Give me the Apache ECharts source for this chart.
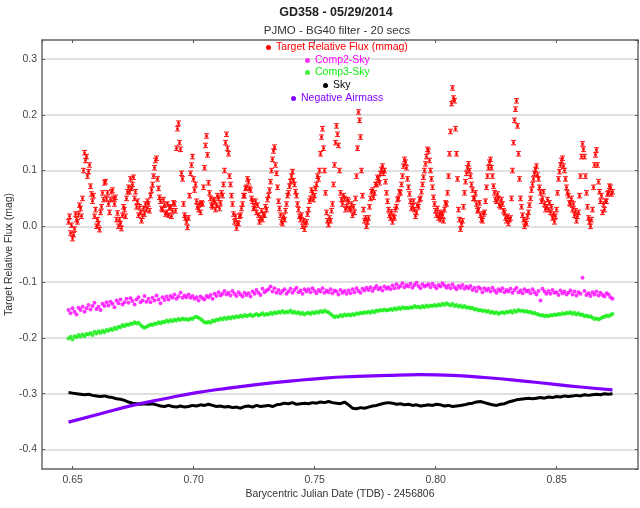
<!DOCTYPE html>
<html><head><meta charset="utf-8">
<script src="https://cdn.jsdelivr.net/npm/echarts@6/dist/echarts.min.js"></script>
<style>html,body{margin:0;padding:0;background:#fff}#c{width:640px;height:508px}</style>
</head><body><div id="c"></div>
<script>
// ---- DATA ----
const titleText = 'GD358 - 05/29/2014';
const subtitleText = 'PJMO - BG40 filter - 20 secs';
const xAxisName = 'Barycentric Julian Date (TDB) - 2456806';
const yAxisName = 'Target Relative Flux (mag)';
const seriesNames = ['Target Relative Flux (mmag)', 'Comp2-Sky', 'Comp3-Sky', 'Sky', 'Negative Airmass'];
const tStart = 0.64826, tEnd = 0.87306;   // time span of the run (BJD - 2456806)
const targetErr = 0.004;

const targetFlux = [
.008,.018,-.012,.002,-.022,-.015,-.005,.022,.012,.008,.022,.038,.032,.018,.05,.1,.132,.118,.125,.09,
.098,.11,.072,.058,.045,.055,.018,.03,0,.012,.005,-.006,.025,.035,.06,.048,.078,.08,.05,.06,
.04,.025,.048,.062,.065,.05,.04,.052,.012,.024,0,.012,.005,-.004,.02,.035,.03,.018,.05,.062,
.07,.062,.085,.068,.075,.088,.05,.062,.035,.045,.02,.035,.025,.01,.018,.032,.022,.04,.03,.045,
.04,.028,.055,.065,.075,.09,.105,.118,.122,.085,.068,.052,.045,.032,.03,.048,.038,.022,.025,.04,
.02,.033,.035,.018,.028,.042,.04,.028,.14,.175,.185,.15,.138,.095,.085,.04,.02,.015,.008,-.002,
.015,.055,.095,.11,.125,.085,.065,.075,.045,.035,.03,.04,.025,.042,.04,.07,.105,.145,.162,.128,
.078,.06,.05,.038,.035,.048,.045,.03,.038,.055,.05,.032,.042,.06,.055,.075,.1,.15,.165,.14,
.13,.09,.075,.055,.04,.022,.008,.018,-.003,.006,.005,.018,.02,.032,.04,.055,.055,.068,.07,.085,
.08,.068,.065,.05,.045,.032,.035,.045,.025,.038,.02,.008,.015,.028,.012,.022,.02,.035,.03,.048,
.055,.065,.08,.1,.12,.135,.142,.11,.095,.07,.045,.032,.02,.008,.005,.018,.012,.028,.04,.055,
.06,.072,.08,.09,.098,.082,.075,.062,.055,.04,.03,.018,.012,.02,0,.01,-.005,.004,.008,.022,
.03,.045,.05,.065,.06,.048,.055,.068,.075,.09,.085,.1,.13,.16,.175,.14,.1,.06,.025,.01,
.003,.015,.01,.028,.04,.075,.11,.15,.18,.165,.145,.1,.06,.048,.04,.055,.05,.03,.035,.048,
.045,.032,.03,.04,.02,.035,.025,.05,.09,.14,.205,.19,.16,.1,.055,.03,.01,.015,0,.008,
.015,.035,.05,.062,.065,.052,.06,.075,.075,.088,.085,.078,.095,.102,.108,.095,.1,.08,.06,.045,
.03,.02,.015,.026,.008,.018,.015,.03,.035,.048,.05,.062,.06,.075,.09,.108,.12,.115,.105,.085,
.07,.058,.045,.032,.035,.045,.03,.018,.025,.038,.035,.048,.05,.062,.075,.088,.1,.112,.125,.138,
.135,.118,.1,.085,.07,.052,.04,.028,.02,.032,.015,.022,.012,.025,.02,.01,.03,.042,.04,.06,
.09,.13,.17,.22,.248,.23,.225,.175,.13,.085,.03,.012,-.005,.004,.01,.035,.06,.08,.095,.105,
.112,.1,.09,.075,.065,.05,.05,.06,.04,.028,.03,.042,.02,.012,.01,.022,.025,.045,.07,.09,
.105,.115,.12,.105,.09,.072,.06,.048,.045,.058,.05,.038,.035,.048,.04,.028,.025,.015,.01,.018,
.005,.012,.015,.05,.1,.15,.19,.21,.225,.18,.13,.085,.05,.035,.02,.012,0,.008,.005,.018,
.025,.038,.05,.065,.075,.085,.095,.102,.108,.092,.085,.07,.06,.045,.05,.062,.04,.03,.035,.048,
.03,.042,.025,.035,.015,.022,.008,.018,.03,.06,.085,.098,.11,.118,.122,.108,.1,.085,.07,.06,
.055,.042,.04,.05,.03,.04,.02,.028,.01,.018,.025,.055,.09,.125,.148,.138,.125,.09,.06,.035,
.015,.008,0,.012,.03,.07,.11,.128,.137,.11,.08,.062,.045,.055,.025,.04,.03,.045,.045,.058,
.06,.072,.07,.058,.062];

const comp2Sky = [
-.150,-.156,-.147,-.153,-.158,-.146,-.150,-.144,-.153,-.147,
-.141,-.149,-.143,-.137,-.148,-.144,-.150,-.139,-.143,-.136,
-.142,-.135,-.139,-.145,-.133,-.138,-.131,-.140,-.136,-.130,
-.137,-.129,-.134,-.140,-.131,-.127,-.136,-.133,-.125,-.135,
-.130,-.136,-.128,-.133,-.124,-.131,-.138,-.127,-.132,-.126,
-.131,-.125,-.128,-.122,-.130,-.126,-.119,-.128,-.124,-.127,
-.122,-.128,-.125,-.130,-.127,-.133,-.126,-.129,-.131,-.125,
-.127,-.123,-.130,-.121,-.125,-.118,-.124,-.121,-.116,-.122,
-.119,-.124,-.116,-.121,-.125,-.118,-.122,-.126,-.119,-.123,
-.120,-.126,-.117,-.121,-.114,-.119,-.123,-.112,-.118,-.115,
-.113,-.108,-.117,-.111,-.119,-.114,-.120,-.116,-.113,-.121,
-.117,-.112,-.119,-.114,-.110,-.118,-.115,-.121,-.113,-.117,
-.113,-.118,-.111,-.116,-.120,-.114,-.117,-.111,-.119,-.115,
-.118,-.113,-.120,-.115,-.117,-.122,-.114,-.119,-.116,-.121,
-.115,-.120,-.113,-.118,-.111,-.116,-.119,-.112,-.115,-.110,
-.114,-.109,-.116,-.111,-.107,-.113,-.110,-.115,-.108,-.112,
-.109,-.113,-.106,-.111,-.104,-.110,-.107,-.102,-.109,-.105,
-.108,-.103,-.110,-.105,-.101,-.107,-.111,-.104,-.108,-.106,
-.104,-.109,-.103,-.107,-.111,-.105,-.108,-.102,-.106,-.110,
-.106,-.111,-.104,-.109,-.113,-.107,-.110,-.105,-.112,-.108,
-.111,-.107,-.114,-.110,-.116,-.109,-.112,-.118,-.111,-.115,
-.112,-.117,-.110,-.115,-.119,-.113,-.116,-.111,-.118,-.114,
-.117,-.112,-.119,-.114,-.110,-.118,-.115,-.120,-.113,-.117,
-.115,-.120,-.113,-.118,-.122,-.116,-.133,-.112,-.117,-.121,
-.116,-.121,-.114,-.119,-.118,-.123,-.115,-.120,-.117,-.122,
-.119,-.115,-.122,-.117,-.124,-.118,-.121,-.092,-.116,-.123,
-.120,-.125,-.118,-.122,-.117,-.124,-.119,-.123,-.126,-.120,
-.122,-.127,-.130];

const comp3Sky = [
-.201,-.198,-.203,-.197,-.199,-.195,-.198,-.194,-.197,-.193,
-.194,-.191,-.195,-.189,-.192,-.188,-.191,-.187,-.190,-.186,
-.187,-.184,-.186,-.182,-.184,-.180,-.181,-.177,-.179,-.176,
-.177,-.174,-.175,-.172,-.174,-.173,-.177,-.180,-.182,-.180,
-.178,-.176,-.177,-.174,-.175,-.172,-.174,-.171,-.172,-.169,
-.171,-.168,-.170,-.167,-.169,-.166,-.168,-.165,-.167,-.166,
-.168,-.165,-.166,-.163,-.162,-.164,-.166,-.169,-.172,-.173,
-.171,-.173,-.169,-.170,-.167,-.168,-.165,-.167,-.164,-.166,
-.163,-.165,-.162,-.164,-.161,-.163,-.160,-.162,-.159,-.161,
-.160,-.158,-.161,-.159,-.157,-.160,-.158,-.156,-.159,-.157,
-.158,-.155,-.157,-.154,-.156,-.153,-.155,-.152,-.155,-.153,
-.154,-.151,-.155,-.153,-.156,-.154,-.157,-.155,-.158,-.156,
-.155,-.157,-.154,-.156,-.153,-.155,-.152,-.154,-.151,-.153,
-.154,-.157,-.160,-.163,-.161,-.162,-.159,-.161,-.158,-.160,
-.158,-.160,-.157,-.159,-.156,-.157,-.155,-.156,-.154,-.155,
-.153,-.155,-.152,-.154,-.151,-.152,-.150,-.151,-.149,-.151,
-.150,-.148,-.150,-.147,-.149,-.146,-.148,-.145,-.147,-.146,
-.147,-.145,-.146,-.143,-.145,-.144,-.146,-.143,-.145,-.142,
-.144,-.142,-.143,-.141,-.143,-.140,-.142,-.139,-.141,-.138,
-.140,-.142,-.139,-.143,-.141,-.144,-.142,-.145,-.143,-.146,
-.145,-.147,-.146,-.149,-.148,-.151,-.150,-.152,-.151,-.153,
-.152,-.155,-.153,-.156,-.154,-.157,-.155,-.154,-.156,-.153,
-.154,-.152,-.155,-.151,-.153,-.150,-.152,-.151,-.153,-.152,
-.154,-.153,-.156,-.155,-.157,-.158,-.160,-.159,-.161,-.160,
-.161,-.159,-.160,-.158,-.159,-.157,-.158,-.156,-.157,-.155,
-.156,-.154,-.157,-.155,-.158,-.156,-.159,-.158,-.161,-.160,
-.162,-.161,-.164,-.166,-.165,-.167,-.165,-.163,-.162,-.160,
-.161,-.159,-.157];

const sky = [
-.298,-.299,-.300,-.301,-.302,-.301,-.303,-.304,-.305,-.304,
-.306,-.307,-.309,-.310,-.312,-.315,-.317,-.318,-.319,-.318,
-.319,-.318,-.320,-.322,-.323,-.321,-.323,-.324,-.322,-.324,
-.323,-.321,-.322,-.320,-.321,-.319,-.321,-.323,-.322,-.324,
-.323,-.325,-.324,-.326,-.323,-.322,-.324,-.321,-.323,-.322,
-.321,-.323,-.320,-.319,-.317,-.318,-.316,-.319,-.318,-.317,
-.318,-.316,-.317,-.315,-.316,-.314,-.316,-.317,-.318,-.315,
-.320,-.326,-.327,-.325,-.326,-.324,-.322,-.321,-.319,-.317,
-.316,-.317,-.319,-.318,-.320,-.319,-.321,-.320,-.322,-.321,
-.320,-.321,-.319,-.320,-.322,-.321,-.323,-.322,-.321,-.320,
-.318,-.317,-.315,-.314,-.316,-.318,-.320,-.321,-.319,-.318,
-.315,-.313,-.311,-.310,-.309,-.308,-.309,-.308,-.307,-.308,
-.306,-.307,-.305,-.306,-.304,-.305,-.304,-.303,-.304,-.302,
-.303,-.302,-.301,-.302,-.300,-.301,-.300];

const negAirmass = [-.351,-.336,-.321,-.309,-.298,-.290,-.283,-.277,-.272,-.269,-.267,-.266,-.267,-.271,-.276,-.282,-.288,-.293];

const colors = ['#ff0000', '#ff00ff', '#11ee11', '#000000', '#8000ff'];

// ---- BUILD ----
function toPairs(vals) {
  const n = vals.length;
  return vals.map((v, i) => [tStart + i * (tEnd - tStart) / (n - 1), v]);
}
const FONT = 'Liberation Sans, Arial, sans-serif';
const chart = echarts.init(document.getElementById('c'), null, {renderer: 'canvas'});

const xMin = 0.6373, xMax = 0.8836, yMin = -0.435, yMax = 0.334;
const frameLine = {show: true, onZero: false, lineStyle: {color: '#6a6a6a', width: 1.5}};
const tickIn = {show: true, inside: true, length: 3, lineStyle: {color: '#555'}};
function xfmt(v) { return Math.abs(v * 20 - Math.round(v * 20)) < 1e-6 ? v.toFixed(2) : ''; }
function yfmt(v) { return Math.abs(v * 10 - Math.round(v * 10)) < 1e-6 ? v.toFixed(1) : ''; }

const legendTops = [42, 55, 67, 80, 93];
const legendLefts = [266, 305, 305, 323, 291];

chart.setOption({
  animation: false,
  textStyle: {fontFamily: FONT},
  graphic: [
    {type: 'text', x: 336, y: 13, style: {text: titleText, font: 'bold 12.5px ' + FONT, fill: '#222', textAlign: 'center', textVerticalAlign: 'middle'}},
    {type: 'text', x: 337, y: 31, style: {text: subtitleText, font: '11.5px ' + FONT, fill: '#333', textAlign: 'center', textVerticalAlign: 'middle'}}
  ],
  legend: seriesNames.map((nm, k) => ({
    data: [nm], left: legendLefts[k], top: legendTops[k], padding: 0,
    icon: 'circle', itemWidth: 5, itemHeight: 5, selectedMode: false,
    textStyle: {color: colors[k], fontSize: 10.5, fontFamily: FONT}
  })),
  grid: {left: 42, right: 2, top: 40, bottom: 39, containLabel: false, outerBoundsMode: 'none'},
  xAxis: [
    {type: 'value', position: 'bottom', min: xMin, max: xMax, splitNumber: 5,
     axisLine: frameLine, axisTick: tickIn,
     axisLabel: {color: '#444', fontSize: 10.5, margin: 6, formatter: xfmt, showMinLabel: false, showMaxLabel: false},
     splitLine: {show: false},
     name: xAxisName, nameLocation: 'middle', nameGap: 20, nameMoveOverlap: false,
     nameTextStyle: {color: '#333', fontSize: 10.5, fontFamily: FONT}},
    {type: 'value', position: 'top', min: xMin, max: xMax, splitNumber: 5,
     axisLine: frameLine, axisTick: tickIn, axisLabel: {show: false}, splitLine: {show: false}}
  ],
  yAxis: [
    {type: 'value', position: 'left', min: yMin, max: yMax, splitNumber: 8,
     axisLine: frameLine, axisTick: tickIn,
     axisLabel: {color: '#444', fontSize: 10.5, margin: 5, formatter: yfmt, showMinLabel: false, showMaxLabel: false},
     splitLine: {show: true, lineStyle: {color: '#d6d6d6', width: 1.5}},
     name: yAxisName, nameLocation: 'middle', nameGap: 27, nameMoveOverlap: false,
     nameTextStyle: {color: '#333', fontSize: 10.5, fontFamily: FONT}},
    {type: 'value', position: 'right', min: yMin, max: yMax, splitNumber: 8,
     axisLine: frameLine, axisTick: tickIn, axisLabel: {show: false}, splitLine: {show: false}}
  ],
  series: [
    {
      name: seriesNames[0], type: 'custom', xAxisIndex: 0, yAxisIndex: 0,
      itemStyle: {color: colors[0]},
      encode: {x: 0, y: 1},
      data: toPairs(targetFlux),
      renderItem: function (params, api) {
        const t = api.value(0), v = api.value(1);
        const p = api.coord([t, v]);
        const lo = api.coord([t, v - targetErr]);
        const hi = api.coord([t, v + targetErr]);
        const c = colors[0];
        return {type: 'group', children: [
          {type: 'line', shape: {x1: p[0], y1: lo[1], x2: p[0], y2: hi[1]}, style: {stroke: c, lineWidth: 1.5, opacity: 0.85}},
          {type: 'line', shape: {x1: p[0] - 2.5, y1: lo[1], x2: p[0] + 2.5, y2: lo[1]}, style: {stroke: c, lineWidth: 1.1, opacity: 0.85}},
          {type: 'line', shape: {x1: p[0] - 2.5, y1: hi[1], x2: p[0] + 2.5, y2: hi[1]}, style: {stroke: c, lineWidth: 1.1, opacity: 0.85}},
          {type: 'circle', shape: {cx: p[0], cy: p[1], r: 1.3}, style: {fill: c}}
        ]};
      }
    },
    {name: seriesNames[1], type: 'scatter', data: toPairs(comp2Sky), symbolSize: 4,
     itemStyle: {color: colors[1]}},
    {name: seriesNames[2], type: 'scatter', data: toPairs(comp3Sky), symbolSize: 4,
     itemStyle: {color: colors[2]}},
    {name: seriesNames[3], type: 'line', data: toPairs(sky), showSymbol: false, symbol: 'circle',
     itemStyle: {color: colors[3]}, lineStyle: {color: colors[3], width: 3}},
    {name: seriesNames[4], type: 'line', data: toPairs(negAirmass), smooth: true, showSymbol: false, symbol: 'circle',
     itemStyle: {color: colors[4]}, lineStyle: {color: colors[4], width: 3.2}}
  ]
});
</script>
</body></html>
